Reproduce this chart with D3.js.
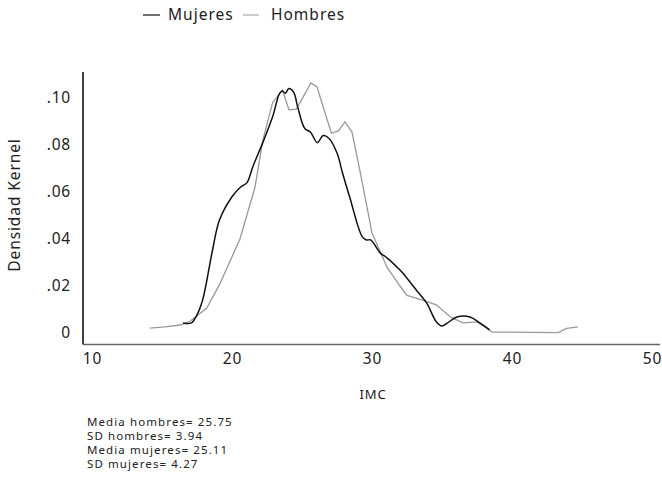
<!DOCTYPE html>
<html><head><meta charset="utf-8">
<script src="https://cdn.jsdelivr.net/npm/d3@7"></script>
<style>body{margin:0;background:#fff}svg{display:block}text{font-family:"Noto Sans",sans-serif;fill:#222}</style>
</head><body>
<svg id="c" width="662" height="481"></svg>
<script>
const xTicks=[10,20,30,40,50];
const yTicks=[0,0.02,0.04,0.06,0.08,0.10];
const yTickLabels=["0",".02",".04",".06",".08",".10"];
const mujeresIMC=[16.5,17.1,17.5,17.9,18.6,19.1,20.0,20.6,21.07,21.5,22.2,22.9,23.4,23.6,23.8,24.07,24.4,24.7,25.2,25.6,26.1,26.5,26.9,27.5,27.9,28.4,29.3,29.6,29.9,30.6,31.07,32.0,32.2,33.2,33.9,34.6,35.0,35.4,36.07,37.0,37.7,38.4];
const mujeresDens=[0.0043,0.0043,0.0077,0.014,0.035,0.048,0.058,0.062,0.064,0.071,0.081,0.092,0.102,0.103,0.102,0.104,0.1025,0.096,0.087,0.0855,0.081,0.084,0.083,0.0766,0.068,0.058,0.041,0.0396,0.0396,0.034,0.032,0.0268,0.0255,0.018,0.0128,0.0047,0.003,0.0043,0.0068,0.0068,0.0043,0.0013];
const hombresIMC=[14.14,15.2,16.3,17.0,18.2,19.14,20.57,21.64,22.2,22.9,23.6,24.07,24.6,25.64,26.07,27.1,27.6,28.07,28.57,29.14,30.0,31.07,32.0,32.5,33.6,34.6,35.6,36.5,37.5,38.6,43.3,43.9,44.7];
const hombresDens=[0.0021,0.0026,0.0034,0.005,0.0106,0.021,0.040,0.062,0.082,0.098,0.1034,0.095,0.0953,0.1064,0.1047,0.085,0.086,0.0898,0.0855,0.069,0.0426,0.028,0.020,0.016,0.014,0.012,0.0068,0.0043,0.0047,0.0004,0.0002,0.002,0.0026];
const stats=["Media hombres= 25.75","SD hombres= 3.94","Media mujeres= 25.11","SD mujeres= 4.27"];

const svg=d3.select("#c");
const x=d3.scaleLinear().domain([10,50]).range([92,652]);
const y=d3.scaleLinear().domain([0,0.1]).range([333,98]);

svg.append("line").attr("x1",83).attr("x2",83).attr("y1",72).attr("y2",344.5).attr("stroke","#000").attr("stroke-width",1.5);
svg.append("line").attr("x1",83).attr("x2",660).attr("y1",344.5).attr("y2",344.5).attr("stroke","#666").attr("stroke-width",1.5);

const xAxis=svg.append("g").attr("transform","translate(0,344)")
  .call(d3.axisBottom(x).tickValues(xTicks).tickSize(0).tickPadding(9).tickFormat(d3.format("d")));
xAxis.select(".domain").remove();
xAxis.selectAll("text").style("font-size","15.5px").style("letter-spacing","0.8px").style("fill","#222");

const yAxis=svg.append("g").attr("transform","translate(83,0)")
  .call(d3.axisLeft(y).tickValues(yTicks).tickSize(0).tickPadding(12).tickFormat((d,i)=>yTickLabels[i]));
yAxis.select(".domain").remove();
yAxis.selectAll("text").style("font-size","15.5px").style("letter-spacing","0.8px").style("fill","#222");

svg.append("path").datum(hombresIMC.map((v,i)=>[v,hombresDens[i]]))
  .attr("d",d3.line().x(d=>x(d[0])).y(d=>y(d[1])).curve(d3.curveLinear))
  .attr("fill","none").attr("stroke","#999").attr("stroke-width",1.3);
svg.append("path").datum(mujeresIMC.map((v,i)=>[v,mujeresDens[i]]))
  .attr("d",d3.line().x(d=>x(d[0])).y(d=>y(d[1])).curve(d3.curveCatmullRom))
  .attr("fill","none").attr("stroke","#111").attr("stroke-width",1.5);

svg.append("text").attr("x",373).attr("y",399).attr("text-anchor","middle").style("font-size","13px").style("letter-spacing","0.8px").text("IMC");
svg.append("text").attr("transform","translate(20,205) rotate(-90)").attr("text-anchor","middle").style("font-size","15.5px").style("letter-spacing","0.9px").text("Densidad Kernel");

svg.append("line").attr("x1",143).attr("x2",160).attr("y1",15).attr("y2",15).attr("stroke","#111").attr("stroke-width",1.2);
svg.append("text").attr("x",168).attr("y",20).style("font-size","15.5px").style("letter-spacing","1px").text("Mujeres");
svg.append("line").attr("x1",243).attr("x2",259).attr("y1",15).attr("y2",15).attr("stroke","#aaa").attr("stroke-width",1.2);
svg.append("text").attr("x",271).attr("y",20).style("font-size","15.5px").style("letter-spacing","1px").text("Hombres");

svg.append("g").selectAll("text").data(stats).join("text")
  .attr("x",87).attr("y",(d,i)=>426+i*14).style("font-size","11.5px").style("letter-spacing","1.1px").text(d=>d);
</script>
</body></html>
